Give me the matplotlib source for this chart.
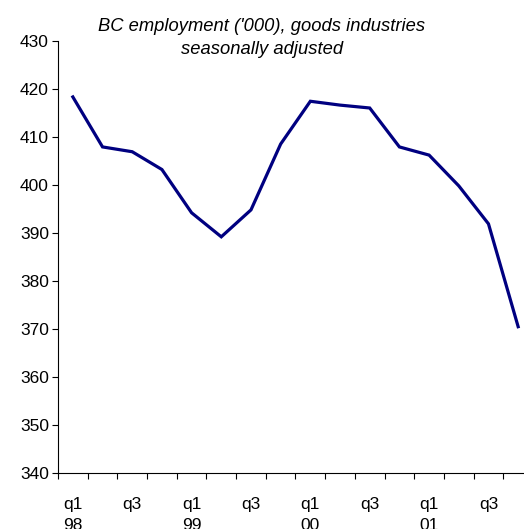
import matplotlib.pyplot as plt
import numpy as np

# quarterly data, 1998q1 - 2001q4
quarters = ["q1\n98", "q2", "q3", "q4", "q1\n99", "q2", "q3", "q4",
            "q1\n00", "q2", "q3", "q4", "q1\n01", "q2", "q3", "q4"]
employment = [418.3, 407.9, 406.9, 403.2, 394.2, 389.2, 394.8, 408.5,
              417.4, 416.6, 416.0, 407.9, 406.2, 399.8, 391.9, 370.5]

plt.rcParams['font.family'] = ['Liberation Sans', 'DejaVu Sans']

fig = plt.figure(figsize=(5.24, 5.29), dpi=100)
ax = fig.add_axes([58 / 524, 1 - 473.3 / 529, 475 / 524, 432.6 / 529])

x = np.arange(len(employment))
ax.plot(x, employment, color='#000080', linewidth=2.3, solid_joinstyle='miter')

ax.set_xlim(-0.5, len(employment) - 0.5)
ax.set_ylim(340, 430)
ax.set_yticks(np.arange(340, 431, 10))

# labels on every other quarter, tick marks between categories
ax.set_xticks(x[::2])
ax.set_xticklabels([quarters[i] for i in x[::2]], linespacing=1.5)
ax.set_xticks(np.arange(-0.5, len(employment), 1), minor=True)
ax.tick_params(axis='x', which='major', length=0, pad=17, labelsize=12.5)
ax.tick_params(axis='x', which='minor', length=4, direction='out', width=0.8)
ax.tick_params(axis='y', length=4.3, pad=2.2, labelsize=12.5, width=0.8)
for lbl in ax.get_xticklabels():
    lbl.set_verticalalignment('top')

ax.spines['top'].set_visible(False)
ax.spines['right'].set_visible(False)
ax.spines['left'].set_linewidth(0.8)
ax.spines['bottom'].set_linewidth(0.8)

fig.text(262 / 524, 1 - 38 / 529, "BC employment ('000), goods industries\nseasonally adjusted",
         ha='center', va='center', style='italic', fontsize=13.2, linespacing=1.5)

fig.savefig("out.png", dpi=100)
